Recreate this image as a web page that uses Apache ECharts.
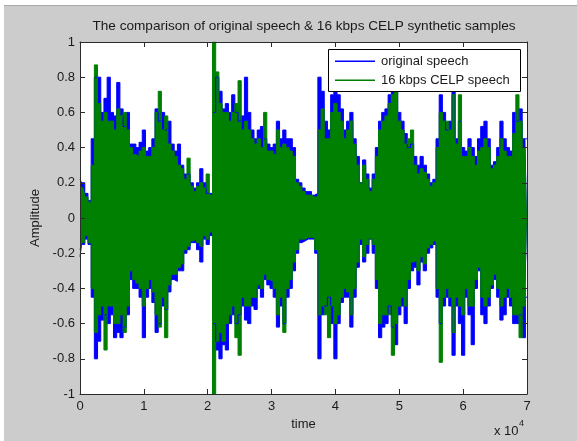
<!DOCTYPE html>
<html>
<head>
<meta charset="utf-8">
<script src="https://cdn.jsdelivr.net/npm/echarts@6/dist/echarts.min.js"></script>
<style>html,body{margin:0;padding:0;background:#fff;}#c{width:577px;height:441px;}</style>
</head>
<body>
<div id="c"></div>
<script>
// Envelope of each waveform, one value every 500 samples (0 .. 70000)
const sampleStep = 500;
const upperBlue = [0.22,0.2,0.14,0.1,0.45,0.8,0.8,0.6,0.68,0.8,
0.6,0.58,0.77,0.62,0.52,0.6,0.42,0.42,0.4,0.43,
0.5,0.38,0.4,0.45,0.62,0.55,0.6,0.5,0.55,0.42,
0.38,0.42,0.3,0.25,0.25,0.2,0.17,0.2,0.28,0.2,
0.14,0.14,0.6,0.8,0.72,0.62,0.65,0.6,0.7,0.6,
0.55,0.58,0.8,0.6,0.5,0.45,0.5,0.52,0.45,0.42,
0.4,0.42,0.55,0.45,0.5,0.45,0.45,0.4,0.22,0.2,
0.17,0.15,0.15,0.13,0.14,0.8,0.72,0.55,0.5,0.7,
0.72,0.7,0.62,0.5,0.55,0.6,0.45,0.35,0.2,0.33,
0.25,0.17,0.25,0.4,0.55,0.6,0.62,0.7,0.8,0.78,
0.6,0.55,0.48,0.4,0.42,0.35,0.3,0.35,0.3,0.25,
0.2,0.22,0.45,0.7,0.6,0.5,0.55,0.72,0.45,0.55,
0.4,0.38,0.45,0.4,0.35,0.45,0.52,0.55,0.45,0.3,
0.32,0.4,0.55,0.45,0.4,0.38,0.6,0.55,0.62,0.45,0.45];
const lowerBlue = [-0.22,-0.15,-0.12,-0.15,-0.45,-0.8,-0.7,-0.58,-0.55,-0.6,
-0.55,-0.68,-0.65,-0.68,-0.62,-0.55,-0.35,-0.4,-0.4,-0.45,
-0.68,-0.45,-0.4,-0.48,-0.65,-0.6,-0.5,-0.52,-0.42,-0.35,
-0.36,-0.3,-0.3,-0.2,-0.18,-0.14,-0.14,-0.18,-0.25,-0.12,
-0.15,-0.1,-0.6,-0.75,-0.8,-0.72,-0.75,-0.6,-0.55,-0.6,
-0.55,-0.5,-0.58,-0.6,-0.5,-0.52,-0.4,-0.45,-0.35,-0.38,
-0.4,-0.45,-0.62,-0.5,-0.6,-0.45,-0.4,-0.3,-0.2,-0.14,
-0.13,-0.12,-0.12,-0.12,-0.2,-0.8,-0.55,-0.5,-0.45,-0.6,
-0.8,-0.6,-0.48,-0.45,-0.45,-0.62,-0.45,-0.28,-0.15,-0.25,
-0.2,-0.12,-0.2,-0.4,-0.68,-0.62,-0.6,-0.5,-0.62,-0.72,
-0.55,-0.5,-0.6,-0.4,-0.3,-0.28,-0.38,-0.25,-0.3,-0.2,
-0.17,-0.15,-0.45,-0.6,-0.5,-0.45,-0.5,-0.78,-0.5,-0.6,
-0.78,-0.45,-0.55,-0.72,-0.4,-0.3,-0.55,-0.6,-0.5,-0.4,
-0.35,-0.45,-0.58,-0.55,-0.45,-0.5,-0.6,-0.6,-0.55,-0.68,-0.45];
const upperGreen = [0.18,0.17,0.12,0.09,0.3,0.87,0.65,0.55,0.6,0.55,
0.55,0.5,0.62,0.58,0.6,0.5,0.4,0.36,0.35,0.38,
0.4,0.35,0.35,0.4,0.6,0.72,0.5,0.58,0.42,0.38,
0.35,0.3,0.28,0.22,0.34,0.18,0.15,0.18,0.2,0.17,
0.25,0.13,1.0,0.83,0.65,0.6,0.6,0.55,0.6,0.65,
0.78,0.5,0.55,0.5,0.45,0.42,0.45,0.4,0.6,0.38,
0.38,0.36,0.5,0.4,0.42,0.4,0.38,0.35,0.2,0.18,
0.15,0.13,0.13,0.12,0.12,0.5,0.62,0.45,0.45,0.6,
0.65,0.6,0.55,0.45,0.5,0.55,0.42,0.3,0.2,0.3,
0.22,0.15,0.22,0.35,0.5,0.55,0.58,0.65,0.7,0.72,
0.55,0.5,0.42,0.45,0.5,0.3,0.25,0.28,0.26,0.22,
0.18,0.2,0.4,0.6,0.55,0.55,0.5,0.7,0.42,0.7,
0.35,0.35,0.4,0.35,0.3,0.38,0.4,0.45,0.4,0.28,
0.3,0.35,0.45,0.38,0.35,0.35,0.48,0.7,0.55,0.4,0.4];
const lowerGreen = [-0.18,-0.14,-0.1,-0.14,-0.4,-0.65,-0.55,-0.5,-0.75,-0.5,
-0.5,-0.6,-0.6,-0.55,-0.65,-0.5,-0.3,-0.35,-0.37,-0.4,
-0.5,-0.4,-0.35,-0.42,-0.55,-0.62,-0.45,-0.68,-0.38,-0.32,
-0.32,-0.28,-0.26,-0.18,-0.16,-0.13,-0.12,-0.14,-0.16,-0.1,
-0.12,-0.08,-1.0,-0.7,-0.65,-0.7,-0.6,-0.55,-0.5,-0.68,
-0.78,-0.45,-0.5,-0.5,-0.45,-0.45,-0.38,-0.4,-0.32,-0.35,
-0.36,-0.4,-0.55,-0.45,-0.65,-0.4,-0.35,-0.25,-0.18,-0.12,
-0.12,-0.11,-0.11,-0.11,-0.18,-0.55,-0.5,-0.55,-0.68,-0.5,
-0.6,-0.55,-0.45,-0.4,-0.42,-0.55,-0.4,-0.25,-0.12,-0.22,
-0.15,-0.12,-0.15,-0.35,-0.6,-0.55,-0.55,-0.55,-0.78,-0.6,
-0.5,-0.45,-0.5,-0.35,-0.25,-0.24,-0.3,-0.22,-0.26,-0.17,
-0.15,-0.13,-0.4,-0.82,-0.45,-0.4,-0.45,-0.65,-0.45,-0.5,
-0.55,-0.4,-0.5,-0.5,-0.35,-0.28,-0.45,-0.5,-0.45,-0.38,
-0.32,-0.4,-0.5,-0.45,-0.4,-0.45,-0.55,-0.55,-0.68,-0.5,-0.4];
const xTicks = [0,1,2,3,4,5,6,7];
const yTicks = [-1,-0.8,-0.6,-0.4,-0.2,0,0.2,0.4,0.6,0.8,1];
const titleText = 'The comparison of original speech & 16 kbps CELP synthetic samples';
const seriesNames = ['original speech', '16 kbps CELP speech'];

const FONT = '"Liberation Sans", Arial, sans-serif';
const AXC = '#2b2b2b';
const TXT = '#1a1a1a';
const BLUE = '#0000ff', GREEN = '#008000';
const seriesColors = [BLUE, GREEN];

function pts(arr){ return arr.map((v,i)=>[i*sampleStep, v]); }

function halfSeries(name, arr, color){
  return {type:'line', name:name, data:pts(arr), symbol:'none', showSymbol:false, step:'middle',
    lineStyle:{color:color, width:1}, itemStyle:{color:color},
    areaStyle:{color:color, opacity:1, origin:0}, animation:false};
}

// legend drawn as a boxed key (line sample + label per series)
const rowY = [61, 80];
const legendItems = [
  {type:'rect', z:100, shape:{x:328.5, y:49.5, width:192, height:42},
   style:{fill:'#ffffff', stroke:'#000000', lineWidth:1}}
];
seriesNames.forEach((n,i)=>{
  legendItems.push({type:'rect', z:101, shape:{x:335, y:rowY[i]-0.5, width:40, height:1.6},
    style:{fill:seriesColors[i]}});
  legendItems.push({type:'text', z:101, x:381, y:rowY[i],
    style:{text:n, fontFamily:FONT, fontSize:13, fill:TXT, textVerticalAlign:'middle'}});
});

const chart = echarts.init(document.getElementById('c'), null, {renderer:'canvas'});
chart.setOption({
  backgroundColor:'#ffffff',
  animation:false,
  textStyle:{fontFamily:FONT},
  graphic:[
    {type:'rect', z:-10, shape:{x:4, y:5, width:573, height:436}, style:{fill:'#cccccc'}},
    {type:'rect', z:-9, shape:{x:4, y:5, width:573, height:1}, style:{fill:'#a8a8a8'}},
    {type:'text', x:304, y:26, style:{text:titleText, fontFamily:FONT, fontSize:13.6, fill:TXT, textAlign:'center', textVerticalAlign:'middle'}},
    {type:'text', x:494, y:425, style:{text:'x 10', fontFamily:FONT, fontSize:13, fill:TXT}},
    {type:'text', x:519, y:419, style:{text:'4', fontFamily:FONT, fontSize:9, fill:TXT}}
  ].concat(legendItems),
  grid:{show:true, backgroundColor:'#ffffff', borderWidth:0, left:80, top:42, width:447, height:352},
  xAxis:[
    {type:'value', min:0, max:70000, interval:10000, position:'bottom',
     name:'time', nameLocation:'middle', nameGap:22, nameTextStyle:{fontFamily:FONT, fontSize:13, color:TXT},
     axisLine:{show:true, onZero:false, lineStyle:{color:AXC, width:1}},
     axisTick:{show:true, inside:true, length:5, lineStyle:{color:AXC}},
     axisLabel:{margin:6, fontFamily:FONT, fontSize:13, color:TXT, formatter:v=>String(xTicks[Math.round(v/10000)])},
     splitLine:{show:false}, z:10},
    {type:'value', min:0, max:70000, interval:10000, position:'top',
     axisLine:{show:true, onZero:false, lineStyle:{color:AXC, width:1}},
     axisTick:{show:true, inside:true, length:5, lineStyle:{color:AXC}},
     axisLabel:{show:false}, splitLine:{show:false}, z:10}
  ],
  yAxis:[
    {type:'value', min:-1, max:1, interval:0.2, position:'left',
     name:'Amplitude', nameLocation:'middle', nameGap:35, nameTextStyle:{fontFamily:FONT, fontSize:13, color:TXT},
     axisLine:{show:true, onZero:false, lineStyle:{color:AXC, width:1}},
     axisTick:{show:true, inside:true, length:5, lineStyle:{color:AXC}},
     axisLabel:{margin:5, fontFamily:FONT, fontSize:13, color:TXT,
       formatter:v=>{ const t = yTicks.reduce((a,b)=>Math.abs(b-v)<Math.abs(a-v)?b:a); return String(t); }},
     splitLine:{show:false}, z:10},
    {type:'value', min:-1, max:1, interval:0.2, position:'right',
     axisLine:{show:true, onZero:false, lineStyle:{color:AXC, width:1}},
     axisTick:{show:true, inside:true, length:5, lineStyle:{color:AXC}},
     axisLabel:{show:false}, splitLine:{show:false}, z:10}
  ],
  series:[
    halfSeries(seriesNames[0], upperBlue, BLUE),
    halfSeries(seriesNames[0], lowerBlue, BLUE),
    halfSeries(seriesNames[1], upperGreen, GREEN),
    halfSeries(seriesNames[1], lowerGreen, GREEN)
  ]
});
</script>
</body>
</html>
